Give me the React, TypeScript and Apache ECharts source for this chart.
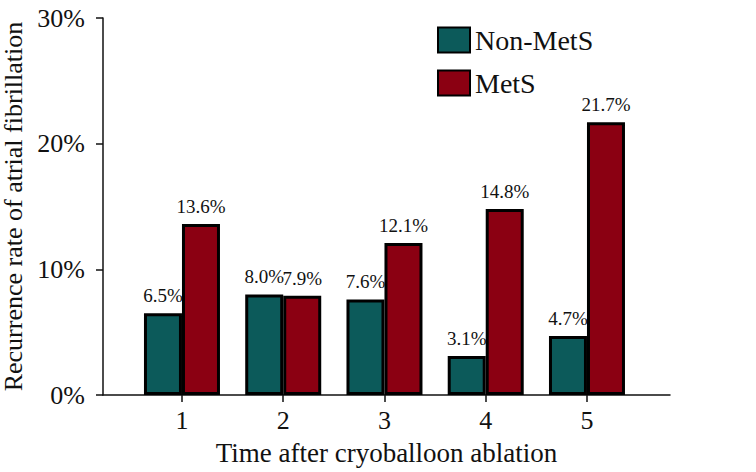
import React, { useEffect, useRef } from "react";
import * as echarts from "echarts";

const timePoints = [1, 2, 3, 4, 5];
const nonMetS = [6.5, 8.0, 7.6, 3.1, 4.7];
const metS = [13.6, 7.9, 12.1, 14.8, 21.7];
const yTicks = [0, 10, 20, 30];

const FONT = "'Liberation Serif', 'Times New Roman', serif";

export default function App() {
  const ref = useRef<HTMLDivElement>(null);
  useEffect(() => {
    if (!ref.current) return;
    const chart = echarts.init(ref.current, null, { renderer: "svg" });
    const labelStyle = {
      show: true,
      position: "top" as const,
      distance: 8,
      fontFamily: FONT,
      fontSize: 19,
      color: "#111",
      formatter: (p: any) => p.value[1].toFixed(1) + "%",
    };
    chart.setOption({
      animation: false,
      backgroundColor: "#fff",
      textStyle: { fontFamily: FONT },
      grid: { left: 103, right: 86, top: 18, bottom: 77, containLabel: false, outerBoundsMode: "none" },
      legend: {
        left: 432,
        top: 21,
        orient: "vertical",
        icon: "rect",
        itemWidth: 32,
        itemHeight: 25,
        itemGap: 15,
        textStyle: { fontFamily: FONT, fontSize: 28, color: "#111" },
        data: ["Non-MetS", "MetS"],
      },
      xAxis: {
        type: "value",
        min: 0.22,
        max: 5.82,
        name: "Time after cryoballoon ablation",
        nameLocation: "middle",
        nameGap: 44,
        nameTextStyle: { fontFamily: FONT, fontSize: 27, color: "#111" },
        axisLine: { show: true, lineStyle: { color: "#111", width: 1.5 } },
        axisTick: { show: true, customValues: timePoints, length: 7, lineStyle: { color: "#111", width: 1.5 } },
        axisLabel: {
          customValues: timePoints,
          fontFamily: FONT,
          fontSize: 26,
          color: "#111",
          margin: 12,
        },
        splitLine: { show: false },
      },
      yAxis: {
        type: "value",
        min: 0,
        max: 30,
        interval: 10,
        name: "Recurrence rate of atrial fibrillation",
        nameLocation: "middle",
        nameGap: 75,
        nameTextStyle: { fontFamily: FONT, fontSize: 26, color: "#111" },
        axisLine: { show: true, lineStyle: { color: "#111", width: 1.5 } },
        axisTick: { show: true, length: 7, lineStyle: { color: "#111", width: 1.5 } },
        axisLabel: {
          fontFamily: FONT,
          fontSize: 26,
          color: "#111",
          margin: 18,
          formatter: (v: number) => (yTicks.includes(v) ? v + "%" : ""),
        },
        splitLine: { show: false },
      },
      series: [
        {
          name: "Non-MetS",
          type: "bar",
          barWidth: 38,
          barGap: "0%",
          data: timePoints.map((t, i) => [t, nonMetS[i]]),
          itemStyle: { color: "#0c5a5a", borderColor: "#000", borderWidth: 3 },
          label: labelStyle,
        },
        {
          name: "MetS",
          type: "bar",
          barWidth: 38,
          barGap: "0%",
          data: timePoints.map((t, i) => [t, metS[i]]),
          itemStyle: { color: "#8b0012", borderColor: "#000", borderWidth: 3 },
          label: labelStyle,
        },
      ],
    });
    return () => chart.dispose();
  }, []);
  return (
    <div
      ref={ref}
      style={{ position: "fixed", left: 0, top: 0, width: 756, height: 472 }}
    />
  );
}
